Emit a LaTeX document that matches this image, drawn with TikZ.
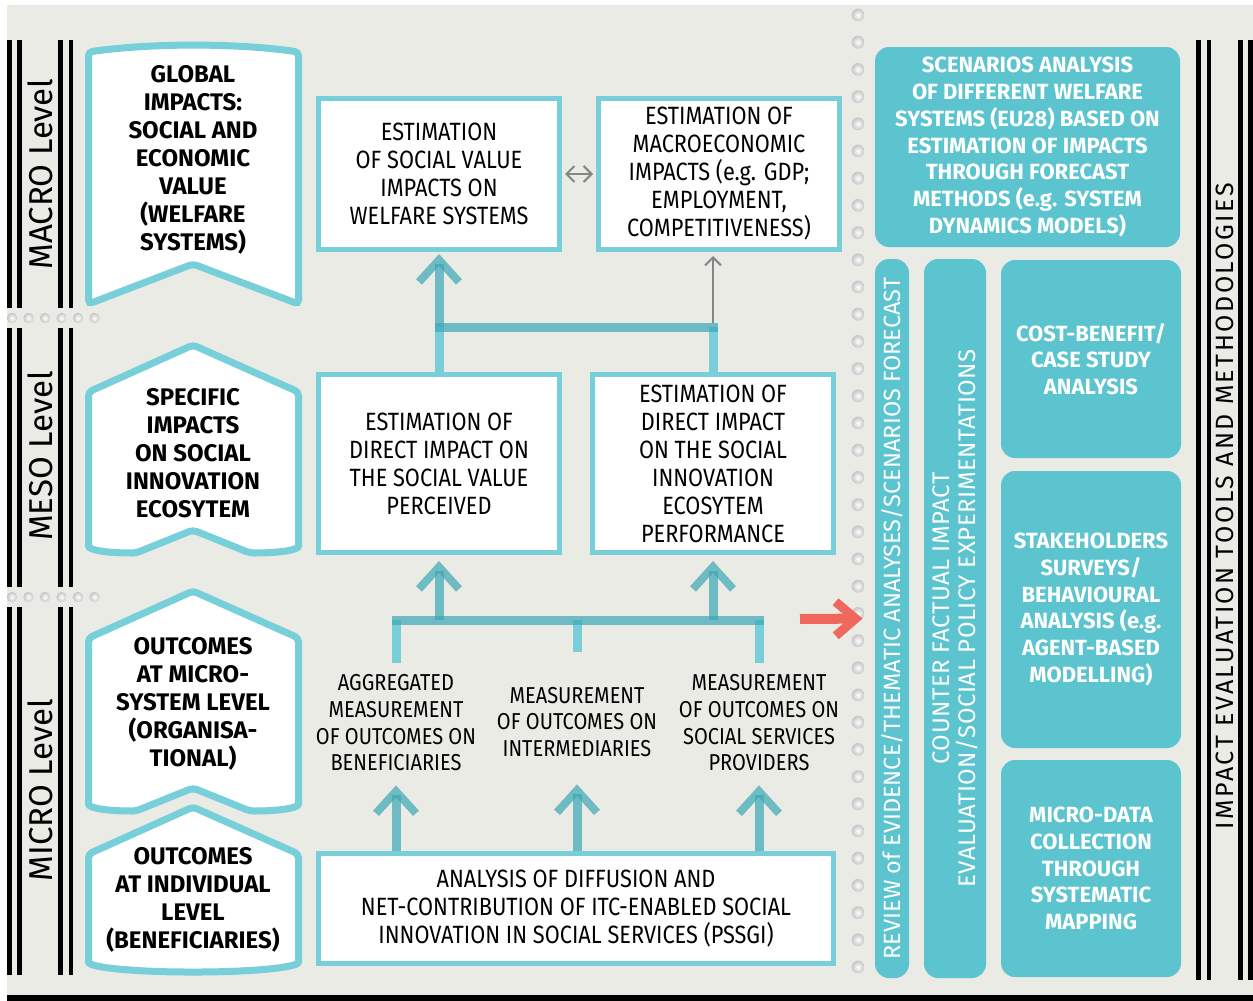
\documentclass[tikz,border=0pt]{standalone}
\usepackage{fontspec}
\setmainfont{Fira Sans}[FakeStretch=0.87]
\newfontfamily\headfont{Fira Sans}
\usetikzlibrary{arrows.meta}
\definecolor{bgcol}{HTML}{EBEBE6}
\definecolor{rim}{HTML}{76CFD9}
\definecolor{tealbox}{HTML}{5BC4CF}
\definecolor{flowcol}{HTML}{3AA8B5}
\definecolor{stemcol}{HTML}{78CFDA}
\definecolor{greyarr}{HTML}{858585}
\definecolor{redarr}{HTML}{F0675E}
\begin{document}
\begin{tikzpicture}[x=0.5pt,y=-0.5pt,
  badge/.style={draw=rim,fill=white,line width=3.5pt,rounded corners=2pt},
  badgetext/.style={align=center,font=\headfont\bfseries\fontsize{12}{14}\selectfont},
  est/.style={draw=rim,fill=white,line width=2.5pt,align=center,inner sep=0pt,
    minimum width=120.5pt,font=\fontsize{12.5}{14}\selectfont},
  lbl/.style={align=center,inner sep=0pt,minimum height=60pt,font=\fontsize{11.5}{13.35}\selectfont},
  tool/.style={fill=tealbox,rounded corners=7pt,text=white,align=center,inner sep=0pt,
    font=\headfont\bfseries\fontsize{11}{13.35}\selectfont},
  tallbar/.style={fill=tealbox,rounded corners=7pt,text=white,align=center,inner sep=0pt,
    rotate=90,minimum width=359.5pt},
  level/.style={rotate=90,inner sep=0pt,font=\headfont\fontsize{16.5}{18}\selectfont},
  rule/.style={line width=2.4pt,black},
  stem/.style={draw=stemcol,line width=4.5pt},
  bar/.style={draw=flowcol,draw opacity=0.7,line width=4.5pt,line cap=rect},
  flow/.style={draw=flowcol,draw opacity=0.7,line width=4.5pt,shorten >=1pt,
    -{Straight Barb[length=11pt,width=20pt,line width=4pt]}},
  thinarrow/.style={draw=greyarr,line width=1pt,-{Straight Barb[length=4pt,width=8pt]}},
  redarrow/.style={draw=redarr,line width=5pt,shorten >=6pt,
    -{Straight Barb[length=10pt,width=17pt,line width=4.5pt]}},
  ball/.style={inner color=white,outer color=gray!45}]
\useasboundingbox (0,0) rectangle (1253,1001);
\fill[white] (0,0) rectangle (1253,1001);
\fill[bgcol] (7,5) rectangle (1253,995);
\fill[black] (7,995) rectangle (1253,1001);

\foreach \ya/\yb in {40/308,328/587,607/975}
  \foreach \xx in {9.5,19.5,60.5,71}
    \draw[rule] (\xx,\ya) -- (\xx,\yb);
\foreach \yy in {318,597}
  \foreach \xx in {12,28.5,45,61.5,78,94.5}
    \shade[ball] (\xx,\yy) circle (2.6pt);
\foreach \xx in {1198.5,1209,1240.5,1250.5}
  \draw[rule] (\xx,40) -- (\xx,980);
\foreach \k in {0,...,35}
  \shade[ball] (858,15+27.2*\k) circle (3.2pt);

\node[level] (macro) at (40,174) {MACRO Level};
\node[level] (meso) at (40,456) {MESO Level};
\node[level] (micro) at (40,790) {MICRO Level};

\draw[badge] (88.5,304) -- (88.5,52) .. controls (150,43) and (237,43) .. (298.5,52) -- (298.5,304) -- (193,264) -- cycle;
\draw[badge] (193,345) -- (298.5,392) -- (298.5,542) .. controls (298.5,550) and (280,553) .. (250,553) -- (193,530) -- (136,553) .. controls (106,553) and (88.5,550) .. (88.5,542) -- (88.5,392) -- cycle;
\draw[badge] (193,591) -- (298.5,638) -- (298.5,800) .. controls (298.5,808) and (280,811) .. (250,811) -- (193,788) -- (136,811) .. controls (106,811) and (88.5,808) .. (88.5,800) -- (88.5,638) -- cycle;
\draw[badge] (193,807) -- (298.5,854) -- (298.5,958) .. controls (298.5,968) and (246,972) .. (193,972) .. controls (140,972) and (88.5,968) .. (88.5,958) -- (88.5,854) -- cycle;

\node[badgetext] (global) at (193,160) {GLOBAL\\IMPACTS:\\SOCIAL AND\\ECONOMIC\\VALUE\\(WELFARE\\SYSTEMS)};
\node[badgetext] (specific) at (193,453) {SPECIFIC\\IMPACTS\\ON SOCIAL\\INNOVATION\\ECOSYTEM};
\node[badgetext] (microsys) at (193,704) {OUTCOMES\\AT MICRO-\\SYSTEM LEVEL\\(ORGANISA-\\TIONAL)};
\node[badgetext] (individual) at (193,900) {OUTCOMES\\AT INDIVIDUAL\\LEVEL\\(BENEFICIARIES)};

\node[est,minimum height=75.5pt] (socval) at (439,174) {ESTIMATION\\OF SOCIAL VALUE\\IMPACTS ON\\WELFARE SYSTEMS};
\node[est,minimum height=75.5pt] (macroec) at (719,174) {ESTIMATION OF\\MACROECONOMIC\\IMPACTS (e.g. GDP;\\EMPLOYMENT,\\COMPETITIVENESS)};
\node[est,minimum height=89pt] (direct) at (439,463.5) {ESTIMATION OF\\DIRECT IMPACT ON\\THE SOCIAL VALUE\\PERCEIVED};
\node[est,minimum height=89pt] (ecosys) at (713,463.5) {ESTIMATION OF\\DIRECT IMPACT\\ON THE SOCIAL\\INNOVATION\\ECOSYTEM\\PERFORMANCE};
\node[est,minimum width=257.5pt,minimum height=55pt] (diffusion) at (576,908.5) {ANALYSIS OF DIFFUSION AND\\NET-CONTRIBUTION OF ITC-ENABLED SOCIAL\\INNOVATION IN SOCIAL SERVICES (PSSGI)};

\node[lbl] (aggr) at (396,723) {AGGREGATED\\MEASUREMENT\\OF OUTCOMES ON\\BENEFICIARIES};
\node[lbl] (interm) at (577,722) {MEASUREMENT\\OF OUTCOMES ON\\INTERMEDIARIES};
\node[lbl] (provid) at (759,723) {MEASUREMENT\\OF OUTCOMES ON\\SOCIAL SERVICES\\PROVIDERS};

\coordinate (barA) at (439,327);
\coordinate (barD) at (713,327);
\coordinate (hubL) at (396,620);
\coordinate (hubC) at (439,620);
\coordinate (hubM) at (577,620);
\coordinate (hubD) at (713,620);
\coordinate (hubR) at (759,620);

\draw[stem] (direct.north) -- (barA);
\draw[stem] (ecosys.north) -- (barD);
\draw[bar] (barA) -- (barD);
\draw[flow] (barA) -- (socval.south);
\draw[thinarrow,shorten <=2pt,shorten >=2pt] (barD) -- (barD |- macroec.south);
\draw[thinarrow,{Straight Barb[length=4pt,width=8pt]}-{Straight Barb[length=4pt,width=8pt]},shorten <=1.5pt,shorten >=1.5pt] (socval.east) -- (macroec.west);

\draw[stem] (aggr.north) -- (hubL);
\draw[stem,shorten <=5pt] (interm.north) -- (hubM);
\draw[stem] (provid.north) -- (hubR);
\draw[bar] (hubL) -- (hubR);
\draw[flow,shorten >=3pt] (hubC) -- (direct.south);
\draw[flow,shorten >=3pt] (hubD) -- (ecosys.south);
\draw[flow] (diffusion.north -| aggr) -- (aggr.south);
\draw[flow] (diffusion.north -| interm) -- (interm.south);
\draw[flow] (diffusion.north -| provid) -- (provid.south);

\node[tool,minimum width=152.5pt,minimum height=100pt] (scen) at (1027.5,147) {SCENARIOS ANALYSIS\\OF DIFFERENT WELFARE\\SYSTEMS (EU28) BASED ON\\ESTIMATION OF IMPACTS\\THROUGH FORECAST\\METHODS (e.g. SYSTEM\\DYNAMICS MODELS)};
\node[tallbar,minimum height=17pt,font=\headfont\fontsize{11.75}{13}\selectfont] (review) at (892,618.5) {REVIEW of EVIDENCE/THEMATIC ANALYSES/SCENARIOS FORECAST};
\node[tallbar,minimum height=31pt,font=\headfont\addfontfeature{LetterSpace=2}\fontsize{12}{13}\selectfont] (counter) at (955,618.5) {COUNTER FACTUAL IMPACT\\EVALUATION/SOCIAL POLICY EXPERIMENTATIONS};
\node[tool,minimum width=90pt,minimum height=99pt] (costben) at (1091,359) {COST-BENEFIT/\\CASE STUDY\\ANALYSIS};
\node[tool,minimum width=90pt,minimum height=138.5pt] (stake) at (1091,609.5) {STAKEHOLDERS\\SURVEYS/\\BEHAVIOURAL\\ANALYSIS (e.g.\\AGENT-BASED\\MODELLING)};
\node[tool,minimum width=90pt,minimum height=108.5pt] (microdata) at (1091,868.5) {MICRO-DATA\\COLLECTION\\THROUGH\\SYSTEMATIC\\MAPPING};
\node[rotate=90,inner sep=0pt,font=\headfont\addfontfeature{LetterSpace=10}\fontsize{12.5}{14}\selectfont] (toolsmeth) at (1225,506) {IMPACT EVALUATION TOOLS AND METHODOLOGIES};

\coordinate (redtail) at (800,619);
\draw[redarrow] (redtail) -- (review.north);
\end{tikzpicture}
\end{document}
